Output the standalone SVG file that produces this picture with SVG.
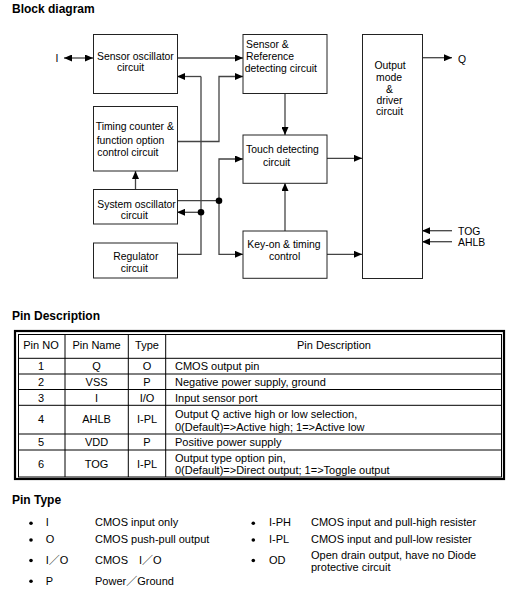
<svg xmlns="http://www.w3.org/2000/svg" width="519" height="593" viewBox="0 0 519 593">
<style>
text{font-family:"Liberation Sans",Arial,"Noto Sans CJK SC",sans-serif;fill:#000}
.h{font-size:12px;font-weight:bold}
.d{font-size:10.4px}
.t{font-size:11px}
.c{text-anchor:middle}
.box{fill:#fff;stroke:#222;stroke-width:1}
.ln{fill:none;stroke:#444;stroke-width:1.3}
.ar{marker-end:url(#ah)}
.dot{fill:#000}
.g{fill:none;stroke:#000;stroke-width:1}
</style>
<defs>
<marker id="ah" markerUnits="userSpaceOnUse" markerWidth="8" markerHeight="7" refX="8" refY="3.5" orient="auto-start-reverse">
<path d="M0,0 L8,3.5 L0,7 z" fill="#000"/>
</marker>
</defs>
<rect width="519" height="593" fill="#fff"/>
<text class="h" x="12" y="13">Block diagram</text>

<g id="connectors">
<line class="ln" x1="64" y1="58" x2="93" y2="58" marker-start="url(#ah)" marker-end="url(#ah)"/>
<line class="ln ar" x1="177" y1="58" x2="243" y2="58"/>
<polyline class="ln" points="201,76.5 201,254.3 177,254.3"/>
<line class="ln ar" x1="201" y1="76.5" x2="177" y2="76.5"/>
<line class="ln ar" x1="201" y1="212.3" x2="177" y2="212.3"/>
<polyline class="ln ar" points="177,141.5 219,141.5 219,76.5 243,76.5"/>
<line class="ln ar" x1="285" y1="93" x2="285" y2="135"/>
<line class="ln ar" x1="135.5" y1="189" x2="135.5" y2="171"/>
<line class="ln" x1="177" y1="200.7" x2="219" y2="200.7"/>
<polyline class="ln ar" points="243,159 219,159 219,254.3 243,254.3" style="marker-start:url(#ah);marker-end:url(#ah)"/>
<line class="ln ar" x1="285" y1="231" x2="285" y2="183"/>
<line class="ln ar" x1="327" y1="158.3" x2="362" y2="158.3"/>
<line class="ln ar" x1="327" y1="254.3" x2="362" y2="254.3"/>
<line class="ln ar" x1="422" y1="57.7" x2="452" y2="57.7"/>
<line class="ln ar" x1="452" y1="230.7" x2="422" y2="230.7"/>
<line class="ln ar" x1="452" y1="241.7" x2="422" y2="241.7"/>
<circle class="dot" cx="201" cy="212.3" r="3.3"/>
<circle class="dot" cx="219" cy="200.7" r="3.3"/>
</g>

<g id="pin-I"><text class="d" x="55.5" y="62.3">I</text></g>
<g id="sensor-osc">
<rect class="box" x="93.5" y="34.5" width="84" height="59"/>
<text class="d" x="97" y="60">Sensor oscillator</text>
<text class="d" x="117" y="71">circuit</text>
</g>
<g id="timing-counter">
<rect class="box" x="93.5" y="106.5" width="84" height="64.5"/>
<text class="d" x="95.7" y="129.5">Timing counter &amp;</text>
<text class="d" x="96.7" y="144">function option</text>
<text class="d" x="97.3" y="156">control circuit</text>
</g>
<g id="system-osc">
<rect class="box" x="93.5" y="189.5" width="84" height="34.5"/>
<text class="d" x="97.3" y="207.5">System oscillator</text>
<text class="d" x="120.7" y="219">circuit</text>
</g>
<g id="regulator">
<rect class="box" x="93.5" y="243" width="84" height="35"/>
<text class="d" x="113.3" y="259.8">Regulator</text>
<text class="d" x="120.7" y="271.8">circuit</text>
</g>
<g id="sensor-ref">
<rect class="box" x="243" y="34.5" width="84" height="59"/>
<text class="d" x="246" y="48.2">Sensor &amp;</text>
<text class="d" x="246" y="59.8">Reference</text>
<text class="d" x="244.7" y="71.8">detecting circuit</text>
</g>
<g id="touch">
<rect class="box" x="243" y="135" width="84" height="48.3"/>
<text class="d" x="246" y="153.2">Touch detecting</text>
<text class="d" x="263" y="165.8">circuit</text>
</g>
<g id="key-on">
<rect class="box" x="243" y="231" width="84" height="47.3"/>
<text class="d" x="247.3" y="248.2">Key-on &amp; timing</text>
<text class="d" x="269" y="259.8">control</text>
</g>
<g id="output">
<rect class="box" x="362.5" y="34.5" width="60" height="244"/>
<text class="d c" x="390" y="69.2">Output</text>
<text class="d c" x="389" y="80.8">mode</text>
<text class="d c" x="389.5" y="93.2">&amp;</text>
<text class="d c" x="389.5" y="104.2">driver</text>
<text class="d c" x="389.5" y="115.2">circuit</text>
</g>
<g id="pin-Q"><text class="d" x="458" y="62.5">Q</text></g>
<g id="pin-TOG"><text class="d" x="458" y="234.8">TOG</text></g>
<g id="pin-AHLB"><text class="d" x="458" y="245.8">AHLB</text></g>

<text class="h" x="12" y="320">Pin Description</text>
<g id="pin-table">
<rect x="15" y="331" width="489" height="148" fill="none" stroke="#000" stroke-width="2.2"/>
<rect class="g" x="18.5" y="334.5" width="483" height="142.5"/>
<line class="g" x1="65" y1="334.5" x2="65" y2="477"/>
<line class="g" x1="128.3" y1="334.5" x2="128.3" y2="477"/>
<line class="g" x1="165.7" y1="334.5" x2="165.7" y2="477"/>
<line class="g" x1="18.5" y1="358.3" x2="501.5" y2="358.3"/>
<line class="g" x1="18.5" y1="374" x2="501.5" y2="374"/>
<line class="g" x1="18.5" y1="389.5" x2="501.5" y2="389.5"/>
<line class="g" x1="18.5" y1="405.3" x2="501.5" y2="405.3"/>
<line class="g" x1="18.5" y1="434" x2="501.5" y2="434"/>
<line class="g" x1="18.5" y1="450" x2="501.5" y2="450"/>
<text class="t c" x="41" y="349">Pin NO</text>
<text class="t c" x="96.6" y="349">Pin Name</text>
<text class="t c" x="147" y="349">Type</text>
<text class="t c" x="334" y="349">Pin Description</text>
<text class="t c" x="41" y="370">1</text><text class="t c" x="96.6" y="370">Q</text><text class="t c" x="147" y="370">O</text>
<text class="t" x="175" y="370">CMOS output pin</text>
<text class="t c" x="41" y="386">2</text><text class="t c" x="96.6" y="386">VSS</text><text class="t c" x="147" y="386">P</text>
<text class="t" x="175" y="386">Negative power supply, ground</text>
<text class="t c" x="41" y="401.7">3</text><text class="t c" x="96.6" y="401.7">I</text><text class="t c" x="147" y="401.7">I/O</text>
<text class="t" x="175" y="401.7">Input sensor port</text>
<text class="t c" x="41" y="423.3">4</text><text class="t c" x="96.6" y="423.3">AHLB</text><text class="t c" x="147" y="423.3">I-PL</text>
<text class="t" x="175" y="418.3">Output Q active high or low selection,</text>
<text class="t" x="175" y="431">0(Default)=&gt;Active high; 1=&gt;Active low</text>
<text class="t c" x="41" y="446">5</text><text class="t c" x="96.6" y="446">VDD</text><text class="t c" x="147" y="446">P</text>
<text class="t" x="175" y="445.5">Positive power supply</text>
<text class="t c" x="41" y="468">6</text><text class="t c" x="96.6" y="468">TOG</text><text class="t c" x="147" y="468">I-PL</text>
<text class="t" x="175" y="461.7">Output type option pin,</text>
<text class="t" x="175" y="474">0(Default)=&gt;Direct output; 1=&gt;Toggle output</text>
</g>

<text class="h" x="12" y="504">Pin Type</text>
<g id="pin-types">
<circle cx="31" cy="523.3" r="1.8"/>
<circle cx="31" cy="540" r="1.8"/>
<circle cx="31" cy="560.5" r="1.8"/>
<circle cx="31" cy="581.2" r="1.8"/>
<circle cx="253.3" cy="523.3" r="1.8"/>
<circle cx="253.3" cy="540" r="1.8"/>
<circle cx="253.3" cy="560.5" r="1.8"/>
<text class="t" x="45.7" y="526.3">I</text>
<text class="t" x="95" y="526.3">CMOS input only</text>
<text class="t" x="45.7" y="543.3">O</text>
<text class="t" x="95" y="543.3">CMOS push-pull output</text>
<text class="t" x="45.7" y="564">I／O</text>
<text class="t" x="95" y="564">CMOS　I／O</text>
<text class="t" x="45.7" y="584.7">P</text>
<text class="t" x="95" y="584.7">Power／Ground</text>
<text class="t" x="269" y="526.3">I-PH</text>
<text class="t" x="311" y="526.3">CMOS input and pull-high resister</text>
<text class="t" x="269" y="543.3">I-PL</text>
<text class="t" x="311" y="543.3">CMOS input and pull-low resister</text>
<text class="t" x="269" y="564">OD</text>
<text class="t" x="311" y="559">Open drain output, have no Diode</text>
<text class="t" x="311" y="570.7">protective circuit</text>
</g>
</svg>
